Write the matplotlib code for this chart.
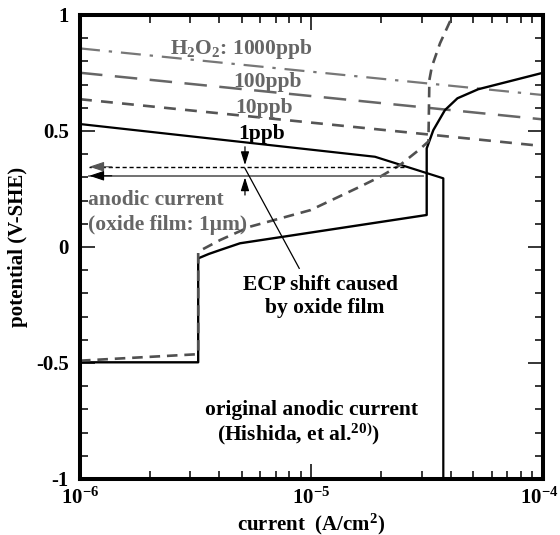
import matplotlib
matplotlib.use("Agg")
import matplotlib.pyplot as plt
import matplotlib.transforms as mtransforms
from matplotlib.ticker import FixedLocator, FixedFormatter, NullFormatter

plt.rcParams['font.family'] = ['Liberation Serif', 'DejaVu Serif']
plt.rcParams['font.weight'] = 'bold'
plt.rcParams['mathtext.fontset'] = 'custom'
plt.rcParams['mathtext.rm'] = 'Liberation Serif:bold'
plt.rcParams['mathtext.it'] = 'Liberation Serif:italic:bold'
plt.rcParams['mathtext.bf'] = 'Liberation Serif:bold'

# ---- data ----
cath_x = [1e-6, 1e-4]
h2o2_1000 = [0.856, 0.655]
h2o2_100 = [0.751, 0.550]
h2o2_10 = [0.637, 0.435]

ppb1_x = [1e-6, 1.88e-5, 3.71e-5, 3.71e-5]
ppb1_y = [0.530, 0.389, 0.296, -1.0]

orig_x = [1e-6, 3.24e-6, 3.24e-6, 3.6e-6, 4.03e-6, 4.91e-6, 3.145e-5, 3.145e-5,
          3.36e-5, 3.77e-5, 4.27e-5, 5.25e-5, 1e-4]
orig_y = [-0.497, -0.497, -0.049, -0.03, -0.013, 0.016, 0.138, 0.425,
          0.504, 0.59, 0.641, 0.68, 0.751]

film_x = [1e-6, 3.24e-6, 3.24e-6, 4.03e-6, 5.42e-6, 9.9e-6, 1.62e-5, 1.98e-5,
          2.41e-5, 2.94e-5, 3.2e-5, 3.23e-5, 3.31e-5, 3.59e-5, 3.96e-5, 4.1e-5]
film_y = [-0.49, -0.462, -0.020, 0.030, 0.0875, 0.159, 0.26, 0.303,
          0.353, 0.422, 0.455, 0.72, 0.777, 0.878, 0.971, 1.0]

ecp_film_y = 0.346
ecp_film_x = [2.5e-5, 1.097e-6]
ecp_orig_y = 0.307
ecp_orig_x = [3.03e-5, 1.097e-6]
shift_x = 5.16e-6
shift_down = [0.432, 0.353]
shift_up = [0.224, 0.300]
leader_x = [5.16e-6, 8.85e-6]
leader_y = [0.339, -0.092]

xticks = [1e-6, 1e-5, 1e-4]
xticklabels = ['10$^{-6}$', '10$^{-5}$', '10$^{-4}$']
yticks = [-1, -0.5, 0, 0.5, 1]
yticklabels = ['-1', '-0.5', '0', '0.5', '1']

GRAY_TXT = '#666666'

fig = plt.figure(figsize=(5.6, 5.35), dpi=100)
ax = fig.add_axes([80/560, 1-479/535, 463/560, 464/535])
ax.set_xscale('log')
ax.set_xlim(1e-6, 1e-4)
ax.set_ylim(-1, 1)

ax.plot(cath_x, h2o2_1000, color='#777777', lw=1.6, dashes=(9, 4, 1.5, 4))
ax.plot(cath_x, h2o2_100, color='#666666', lw=1.8, dashes=(9, 5))
ax.plot(cath_x, h2o2_10, color='#555555', lw=1.9, dashes=(4.5, 3.5))
ax.plot(ppb1_x, ppb1_y, color='black', lw=1.6)
ax.plot(orig_x, orig_y, color='black', lw=1.7)
ax.plot(film_x, film_y, color='#505050', lw=1.9, dashes=(4, 2.6))

# ECP arrows
ax.plot(ecp_film_x, [ecp_film_y]*2, color='black', lw=1.0, dashes=(3, 2))
ax.plot(ecp_orig_x, [ecp_orig_y]*2, color='#666666', lw=1.3)
ax.annotate('', xy=(ecp_film_x[1], ecp_film_y), xytext=(ecp_film_x[1]*1.25, ecp_film_y),
            arrowprops=dict(arrowstyle='-|>,head_length=0.9,head_width=0.3',
                            color='#555555', lw=0.8, shrinkA=0, shrinkB=0))
ax.annotate('', xy=(ecp_orig_x[1], ecp_orig_y), xytext=(ecp_orig_x[1]*1.25, ecp_orig_y),
            arrowprops=dict(arrowstyle='-|>,head_length=0.9,head_width=0.3',
                            color='black', lw=0.8, shrinkA=0, shrinkB=0))
ax.annotate('', xy=(shift_x, shift_down[1]), xytext=(shift_x, shift_down[0]),
            arrowprops=dict(arrowstyle='-|>,head_length=0.8,head_width=0.25',
                            color='black', lw=0.9, shrinkA=0, shrinkB=0))
ax.annotate('', xy=(shift_x, shift_up[1]), xytext=(shift_x, shift_up[0]),
            arrowprops=dict(arrowstyle='-|>,head_length=0.8,head_width=0.25',
                            color='black', lw=0.9, shrinkA=0, shrinkB=0))
ax.plot(leader_x, leader_y, color='black', lw=0.9)

fs = 15.5
ax.text(2.45e-6, 0.832, 'H$_2$O$_2$: 1000ppb', color=GRAY_TXT, fontsize=fs,
        fontweight='bold', ha='left', va='baseline')
ax.text(4.58e-6, 0.688, '100ppb', color=GRAY_TXT, fontsize=fs, fontweight='bold',
        ha='left', va='baseline')
ax.text(4.68e-6, 0.579, '10ppb', color=GRAY_TXT, fontsize=fs, fontweight='bold',
        ha='left', va='baseline')
ax.text(4.82e-6, 0.466, '1ppb', color='black', fontsize=fs, fontweight='bold',
        ha='left', va='baseline')
ax.text(1.083e-6, 0.181, 'anodic current', color=GRAY_TXT, fontsize=fs,
        fontweight='bold', ha='left', va='baseline')
ax.text(1.083e-6, 0.073, '(oxide film: 1\u03bcm)', color=GRAY_TXT, fontsize=fs,
        fontweight='bold', ha='left', va='baseline')
ax.text(1.099e-5, -0.185, 'ECP shift caused', color='black', fontsize=fs,
        fontweight='bold', ha='center', va='baseline')
ax.text(1.143e-5, -0.286, 'by oxide film', color='black', fontsize=fs,
        fontweight='bold', ha='center', va='baseline')
ax.text(3.47e-6, -0.724, 'original anodic current', color='black', fontsize=fs,
        fontweight='bold', ha='left', va='baseline')
ax.text(3.91e-6, -0.832, '(Hishida, et al.$^{20)}$)', color='black', fontsize=fs,
        fontweight='bold', ha='left', va='baseline')

# ticks
ax.xaxis.set_major_locator(FixedLocator(xticks))
ax.xaxis.set_major_formatter(FixedFormatter(xticklabels))
minors = [m * 10.0**e for e in (-6, -5) for m in range(2, 10)]
ax.xaxis.set_minor_locator(FixedLocator(minors))
ax.xaxis.set_minor_formatter(NullFormatter())
ax.yaxis.set_major_locator(FixedLocator(yticks))
ax.yaxis.set_major_formatter(FixedFormatter(yticklabels))
ax.yaxis.set_minor_locator(FixedLocator([i / 10 for i in range(-10, 11)]))
ax.tick_params(which='both', direction='in', top=True, right=True, width=1.1,
               labelsize=15)
ax.tick_params(which='major', length=11)
ax.tick_params(which='minor', length=5.5)
ax.tick_params(axis='y', pad=8)
ax.tick_params(axis='x', pad=6)
for lab in ax.get_xticklabels() + ax.get_yticklabels():
    lab.set_fontweight('bold')
for s in ax.spines.values():
    s.set_linewidth(2.9)

# keep the last x tick label inside the canvas
last = ax.xaxis.get_major_ticks()[-1].label1
last.set_transform(last.get_transform() +
                   mtransforms.ScaledTranslation(-4/100, 0, fig.dpi_scale_trans))

ax.set_xlabel('current  (A/cm$^2$)', fontsize=15, fontweight='bold', labelpad=2)
ax.set_ylabel('potential (V-SHE)', fontsize=15, fontweight='bold', labelpad=6)

fig.savefig('out.png', dpi=100)
